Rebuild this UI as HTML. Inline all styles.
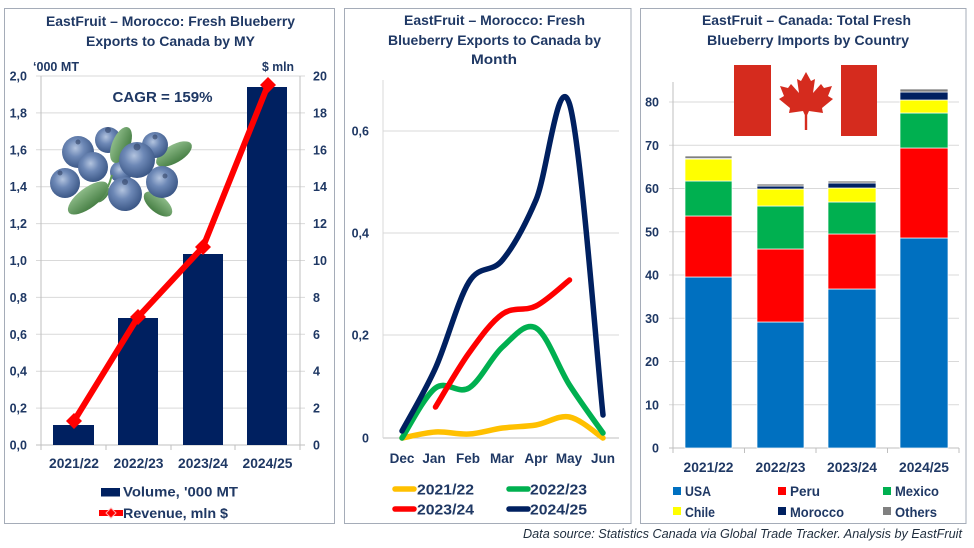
<!DOCTYPE html>
<html><head><meta charset="utf-8"><style>
html,body{margin:0;padding:0;background:#fff;}
svg{display:block;}
text{font-family:"Liberation Sans",Arial,sans-serif;font-weight:bold;fill:#1F3864;}
</style></head><body>
<svg width="974" height="548" viewBox="0 0 974 548" xmlns="http://www.w3.org/2000/svg">
<defs>
<radialGradient id="bb" cx="0.42" cy="0.38" r="0.68">
<stop offset="0" stop-color="#b3c4df"/><stop offset="0.4" stop-color="#6d88b6"/><stop offset="1" stop-color="#34507f"/>
</radialGradient>
<linearGradient id="lf" x1="0" y1="0" x2="0" y2="1">
<stop offset="0" stop-color="#8dbb88"/><stop offset="1" stop-color="#477f45"/>
</linearGradient>
</defs>
<rect width="974" height="548" fill="#fff"/>

<!-- ================= PANEL 1 ================= -->
<rect x="4.5" y="8.5" width="330" height="515" fill="#fff" stroke="#A5ACB8" stroke-width="1"/>
<text x="170.5" y="26" font-size="13.5" text-anchor="middle" textLength="249" lengthAdjust="spacingAndGlyphs">EastFruit – Morocco: Fresh Blueberry</text>
<text x="170.5" y="46" font-size="13.5" text-anchor="middle" textLength="169" lengthAdjust="spacingAndGlyphs">Exports to Canada by MY</text>
<text x="33" y="71" font-size="12.5" textLength="46" lengthAdjust="spacingAndGlyphs">‘000 MT</text>
<text x="262" y="71" font-size="12.5" textLength="32" lengthAdjust="spacingAndGlyphs">$ mln</text>
<g stroke="#D9D9D9" stroke-width="1">
<line x1="36" y1="76" x2="305" y2="76"/><line x1="36" y1="112.9" x2="305" y2="112.9"/>
<line x1="36" y1="149.8" x2="305" y2="149.8"/><line x1="36" y1="186.7" x2="305" y2="186.7"/>
<line x1="36" y1="223.6" x2="305" y2="223.6"/><line x1="36" y1="260.5" x2="305" y2="260.5"/>
<line x1="36" y1="297.4" x2="305" y2="297.4"/><line x1="36" y1="334.3" x2="305" y2="334.3"/>
<line x1="36" y1="371.2" x2="305" y2="371.2"/><line x1="36" y1="408.1" x2="305" y2="408.1"/>
</g>
<g stroke="#BFBFBF" stroke-width="1">
<line x1="41" y1="76" x2="41" y2="445"/><line x1="300" y1="76" x2="300" y2="445"/>
<line x1="36" y1="445" x2="305" y2="445"/>
<line x1="41" y1="445" x2="41" y2="450"/><line x1="106" y1="445" x2="106" y2="450"/>
<line x1="171" y1="445" x2="171" y2="450"/><line x1="235" y1="445" x2="235" y2="450"/>
<line x1="300" y1="445" x2="300" y2="450"/>
</g>
<g font-size="12.5" text-anchor="end">
<text x="27" y="80.5">2,0</text><text x="27" y="117.4">1,8</text><text x="27" y="154.3">1,6</text>
<text x="27" y="191.2">1,4</text><text x="27" y="228.1">1,2</text><text x="27" y="265">1,0</text>
<text x="27" y="301.9">0,8</text><text x="27" y="338.8">0,6</text><text x="27" y="375.7">0,4</text>
<text x="27" y="412.6">0,2</text><text x="27" y="449.5">0,0</text>
</g>
<g font-size="12.5">
<text x="313" y="80.5">20</text><text x="313" y="117.4">18</text><text x="313" y="154.3">16</text>
<text x="313" y="191.2">14</text><text x="313" y="228.1">12</text><text x="313" y="265">10</text>
<text x="313" y="301.9">8</text><text x="313" y="338.8">6</text><text x="313" y="375.7">4</text>
<text x="313" y="412.6">2</text><text x="313" y="449.5">0</text>
</g>
<!-- bars -->
<g fill="#002060">
<rect x="53" y="425" width="41" height="20"/>
<rect x="118" y="318" width="40" height="127"/>
<rect x="183" y="254" width="40" height="191"/>
<rect x="247" y="87" width="40" height="358"/>
</g>
<!-- blueberries -->
<g>
<ellipse cx="174" cy="154" rx="20" ry="9" transform="rotate(-30 174 154)" fill="url(#lf)"/>
<ellipse cx="158" cy="204" rx="17" ry="8.5" transform="rotate(39 158 204)" fill="url(#lf)"/>
<circle cx="108" cy="140" r="13" fill="url(#bb)"/>
<circle cx="155" cy="145" r="13" fill="url(#bb)"/>
<circle cx="78" cy="152" r="16" fill="url(#bb)"/>
<circle cx="121" cy="172" r="11" fill="url(#bb)"/>
<ellipse cx="121" cy="145" rx="19" ry="9" transform="rotate(-68 121 145)" fill="url(#lf)"/>
<circle cx="93" cy="167" r="15" fill="url(#bb)"/>
<circle cx="65" cy="183" r="15" fill="url(#bb)"/>
<circle cx="162" cy="182" r="16" fill="url(#bb)"/>
<circle cx="137" cy="160" r="18" fill="url(#bb)"/>
<path d="M112,175 Q108,190 100,200" stroke="#5f9a55" stroke-width="2" fill="none"/>
<ellipse cx="103" cy="195" rx="9" ry="4" transform="rotate(-50 103 195)" fill="url(#lf)"/>
<circle cx="125" cy="194" r="17" fill="url(#bb)"/>
<ellipse cx="88" cy="198" rx="24" ry="10" transform="rotate(-37 88 198)" fill="url(#lf)"/>
<g fill="#2a3a5c" opacity="0.55">
<circle cx="108" cy="130" r="3"/><circle cx="78" cy="142" r="2.5"/><circle cx="137" cy="147" r="3.5"/>
<circle cx="125" cy="182" r="3"/><circle cx="165" cy="176" r="2.5"/><circle cx="60" cy="173" r="2.5"/>
<circle cx="155" cy="137" r="2.5"/>
</g>
</g>
<!-- revenue line -->
<polyline points="74,421 138,317 203,247 268,85" fill="none" stroke="#FF0000" stroke-width="6" stroke-linejoin="round"/>
<g fill="#FF0000">
<polygon points="74,413 82,421 74,429 66,421"/>
<polygon points="138,309 146,317 138,325 130,317"/>
<polygon points="203,239 211,247 203,255 195,247"/>
<polygon points="268,77 276,85 268,93 260,85"/>
</g>
<text x="162.5" y="102" font-size="15" text-anchor="middle" fill="#002060" textLength="100" lengthAdjust="spacingAndGlyphs">CAGR = 159%</text>
<g font-size="13.5" text-anchor="middle">
<text x="74" y="468" textLength="50" lengthAdjust="spacingAndGlyphs">2021/22</text>
<text x="138.5" y="468" textLength="50" lengthAdjust="spacingAndGlyphs">2022/23</text>
<text x="203" y="468" textLength="50" lengthAdjust="spacingAndGlyphs">2023/24</text>
<text x="267.5" y="468" textLength="50" lengthAdjust="spacingAndGlyphs">2024/25</text>
</g>
<rect x="101" y="488" width="19" height="8.5" fill="#002060"/>
<text x="123" y="496.5" font-size="14" textLength="115" lengthAdjust="spacingAndGlyphs">Volume, '000 MT</text>
<line x1="99" y1="513" x2="123" y2="513" stroke="#FF0000" stroke-width="6"/>
<polygon points="111,508 116,513 111,518 106,513" fill="#FF0000" stroke="#ffb0b0" stroke-width="1"/>
<text x="123" y="518" font-size="14" textLength="105" lengthAdjust="spacingAndGlyphs">Revenue, mln $</text>

<!-- ================= PANEL 2 ================= -->
<rect x="344.5" y="8.5" width="286.5" height="515" fill="none" stroke="#A5ACB8" stroke-width="1"/>
<text x="494.5" y="25" font-size="13.5" text-anchor="middle" textLength="181" lengthAdjust="spacingAndGlyphs">EastFruit – Morocco: Fresh</text>
<text x="494.5" y="45" font-size="13.5" text-anchor="middle" textLength="213" lengthAdjust="spacingAndGlyphs">Blueberry Exports to Canada by</text>
<text x="494" y="64" font-size="13.5" text-anchor="middle" textLength="46" lengthAdjust="spacingAndGlyphs">Month</text>
<g stroke="#D9D9D9" stroke-width="1">
<line x1="383" y1="131" x2="619" y2="131"/><line x1="383" y1="233" x2="619" y2="233"/>
<line x1="383" y1="335" x2="619" y2="335"/>
</g>
<line x1="383" y1="438" x2="619" y2="438" stroke="#BFBFBF" stroke-width="1"/>
<line x1="383" y1="80" x2="383" y2="438" stroke="#D9D9D9" stroke-width="1"/>
<g font-size="12.5" text-anchor="end">
<text x="369" y="135.5">0,6</text><text x="369" y="237.5">0,4</text><text x="369" y="339.5">0,2</text><text x="369" y="442.5">0</text>
</g>
<g font-size="13.5" text-anchor="middle">
<text x="402" y="463">Dec</text><text x="434" y="463">Jan</text><text x="468" y="463">Feb</text>
<text x="502" y="463">Mar</text><text x="536" y="463">Apr</text><text x="569" y="463">May</text><text x="603" y="463">Jun</text>
</g>
<g fill="none" stroke-width="5.5" stroke-linecap="round" stroke-linejoin="round">
<path stroke="#FFC000" d="M402,438 C407.6,437 424.3,432.7 435.5,432 C446.7,431.3 457.8,434.7 469,434 C480.2,433.3 491.3,429.5 502.5,428 C513.7,426.5 524.8,426.8 536,425 C547.2,423.2 558.3,414.8 569.5,417 C580.7,419.2 597.4,434.5 603,438"/>
<path stroke="#00B050" d="M402,438 C407.6,429.7 424.3,396.3 435.5,388 C446.7,379.7 457.8,394.8 469,388 C480.2,381.2 491.3,357 502.5,347 C513.7,337 524.8,321.7 536,328 C547.2,334.3 558.3,367.5 569.5,385 C580.7,402.5 597.4,425 603,433"/>
<path stroke="#FF0000" d="M435.5,407 C441.1,398 457.8,368.5 469,353 C480.2,337.5 491.3,321.8 502.5,314 C513.7,306.2 524.8,311.7 536,306 C547.2,300.3 563.9,284.3 569.5,280"/>
<path stroke="#002060" d="M402,431 C407.6,420.5 424.3,392.8 435.5,368 C446.7,343.2 457.8,300 469,282 C480.2,264 491.3,273.7 502.5,260 C513.7,246.3 524.8,226 536,200 C547.2,174 558.3,68.2 569.5,104 C580.7,139.8 597.4,363.2 603,415"/>
</g>
<g stroke-width="5.5" stroke-linecap="round">
<line x1="395" y1="489" x2="414" y2="489" stroke="#FFC000"/>
<line x1="509" y1="489" x2="528" y2="489" stroke="#00B050"/>
<line x1="395" y1="509" x2="414" y2="509" stroke="#FF0000"/>
<line x1="509" y1="509" x2="528" y2="509" stroke="#002060"/>
</g>
<g font-size="15">
<text x="417" y="494.5" textLength="57" lengthAdjust="spacingAndGlyphs">2021/22</text>
<text x="530" y="494.5" textLength="57" lengthAdjust="spacingAndGlyphs">2022/23</text>
<text x="417" y="514.5" textLength="57" lengthAdjust="spacingAndGlyphs">2023/24</text>
<text x="530" y="514.5" textLength="57" lengthAdjust="spacingAndGlyphs">2024/25</text>
</g>

<!-- ================= PANEL 3 ================= -->
<rect x="640.5" y="8.5" width="325.5" height="515" fill="none" stroke="#A5ACB8" stroke-width="1"/>
<text x="806.5" y="25" font-size="13.5" text-anchor="middle" textLength="209" lengthAdjust="spacingAndGlyphs">EastFruit –  Canada: Total Fresh</text>
<text x="808" y="45" font-size="13.5" text-anchor="middle" textLength="202" lengthAdjust="spacingAndGlyphs">Blueberry Imports by Country</text>
<g stroke="#D9D9D9" stroke-width="1">
<line x1="669" y1="102" x2="959" y2="102"/><line x1="669" y1="145.25" x2="959" y2="145.25"/>
<line x1="669" y1="188.5" x2="959" y2="188.5"/><line x1="669" y1="231.75" x2="959" y2="231.75"/>
<line x1="669" y1="275" x2="959" y2="275"/><line x1="669" y1="318.25" x2="959" y2="318.25"/>
<line x1="669" y1="361.5" x2="959" y2="361.5"/><line x1="669" y1="404.75" x2="959" y2="404.75"/>
</g>
<g stroke="#BFBFBF" stroke-width="1">
<line x1="673" y1="82" x2="673" y2="448"/>
<line x1="669" y1="448" x2="959" y2="448"/>
<line x1="673" y1="448" x2="673" y2="453"/><line x1="744.5" y1="448" x2="744.5" y2="453"/>
<line x1="816" y1="448" x2="816" y2="453"/><line x1="887.5" y1="448" x2="887.5" y2="453"/>
<line x1="959" y1="448" x2="959" y2="453"/>
</g>
<g font-size="12.5" text-anchor="end">
<text x="659" y="106.5">80</text><text x="659" y="149.75">70</text><text x="659" y="193">60</text>
<text x="659" y="236.25">50</text><text x="659" y="279.5">40</text><text x="659" y="322.75">30</text>
<text x="659" y="366">20</text><text x="659" y="409.25">10</text><text x="659" y="452.5">0</text>
</g>
<!-- flag -->
<rect x="771" y="65" width="70" height="71" fill="#fff"/>
<rect x="734" y="65" width="37" height="71" fill="#D52B1E"/>
<rect x="841" y="65" width="36" height="71" fill="#D52B1E"/>
<polygon fill="#D52B1E" transform="translate(806 72)" points="0,0 5,9 9,7 7,21 15,12 18,16 26,14 22,24 27,27 16,36 17,41 3,39 1.2,43 1.2,58 -1.2,58 -1.2,43 -3,39 -17,41 -16,36 -27,27 -22,24 -26,14 -18,16 -15,12 -7,21 -9,7 -5,9"/>
<!-- stacked bars -->
<g stroke="#ffffff" stroke-width="0.7">
<rect x="685" y="277" width="47" height="171" fill="#0070C0"/>
<rect x="685" y="216" width="47" height="61" fill="#FF0000"/>
<rect x="685" y="181" width="47" height="35" fill="#00B050"/>
<rect x="685" y="159" width="47" height="22" fill="#FFFF00"/>
<rect x="685" y="158" width="47" height="1" fill="#002060"/>
<rect x="685" y="156" width="47" height="2.5" fill="#808080"/>

<rect x="757" y="322" width="47" height="126" fill="#0070C0"/>
<rect x="757" y="249" width="47" height="73" fill="#FF0000"/>
<rect x="757" y="206" width="47" height="43" fill="#00B050"/>
<rect x="757" y="189" width="47" height="17" fill="#FFFF00"/>
<rect x="757" y="186" width="47" height="3" fill="#002060"/>
<rect x="757" y="184" width="47" height="2" fill="#808080"/>

<rect x="828" y="289" width="48" height="159" fill="#0070C0"/>
<rect x="828" y="234" width="48" height="55" fill="#FF0000"/>
<rect x="828" y="202" width="48" height="32" fill="#00B050"/>
<rect x="828" y="188" width="48" height="14" fill="#FFFF00"/>
<rect x="828" y="183" width="48" height="5" fill="#002060"/>
<rect x="828" y="181" width="48" height="2" fill="#808080"/>

<rect x="900" y="238" width="48" height="210" fill="#0070C0"/>
<rect x="900" y="148" width="48" height="90" fill="#FF0000"/>
<rect x="900" y="113" width="48" height="35" fill="#00B050"/>
<rect x="900" y="100" width="48" height="13" fill="#FFFF00"/>
<rect x="900" y="92" width="48" height="8" fill="#002060"/>
<rect x="900" y="89" width="48" height="3" fill="#808080"/>
</g>
<g font-size="13.5" text-anchor="middle">
<text x="708.5" y="472" textLength="50" lengthAdjust="spacingAndGlyphs">2021/22</text>
<text x="780.5" y="472" textLength="50" lengthAdjust="spacingAndGlyphs">2022/23</text>
<text x="852" y="472" textLength="50" lengthAdjust="spacingAndGlyphs">2023/24</text>
<text x="924" y="472" textLength="50" lengthAdjust="spacingAndGlyphs">2024/25</text>
</g>
<rect x="673" y="487" width="8" height="8" fill="#0070C0"/>
<rect x="778" y="487" width="8" height="8" fill="#FF0000"/>
<rect x="883" y="487" width="8" height="8" fill="#00B050"/>
<rect x="673" y="507" width="8" height="8" fill="#FFFF00"/>
<rect x="778" y="507" width="8" height="8" fill="#002060"/>
<rect x="883" y="507" width="8" height="8" fill="#808080"/>
<g font-size="13.5">
<text x="685" y="496" textLength="26" lengthAdjust="spacingAndGlyphs">USA</text>
<text x="790" y="496" textLength="30" lengthAdjust="spacingAndGlyphs">Peru</text>
<text x="895" y="496" textLength="44" lengthAdjust="spacingAndGlyphs">Mexico</text>
<text x="685" y="517" textLength="30" lengthAdjust="spacingAndGlyphs">Chile</text>
<text x="790" y="517" textLength="54" lengthAdjust="spacingAndGlyphs">Morocco</text>
<text x="895" y="517" textLength="42" lengthAdjust="spacingAndGlyphs">Others</text>
</g>

<!-- data source -->
<text x="523" y="538" font-size="12.5" font-style="italic" font-weight="normal" fill="#1F2D3D" style="font-weight:normal;fill:#1F2D3D" textLength="439" lengthAdjust="spacingAndGlyphs">Data source: Statistics Canada via Global Trade Tracker. Analysis by  EastFruit</text>
</svg>
</body></html>
